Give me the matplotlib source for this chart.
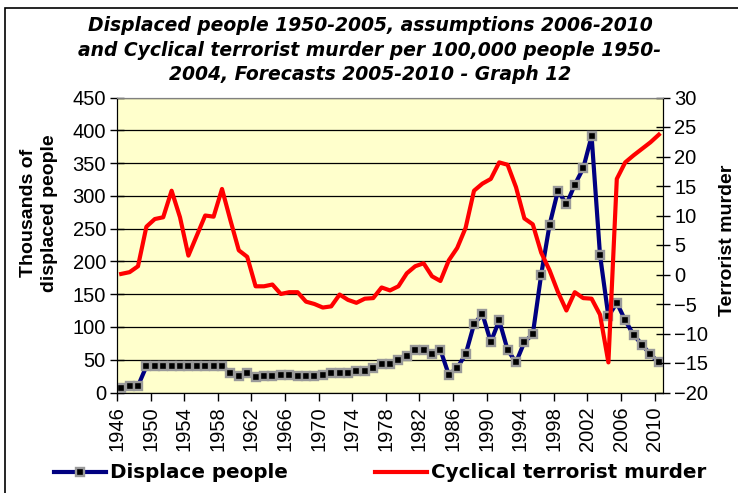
import matplotlib
matplotlib.use("Agg")
import matplotlib.pyplot as plt
import numpy as np
from matplotlib.patches import Rectangle

plt.rcParams["font.family"] = ["Liberation Sans", "DejaVu Sans"]

# --- data ---
years = list(range(1946, 2011))

displaced = [
    7, 10, 10, 40, 40, 40, 40, 40, 40, 40,   # 1946-1955
    40, 40, 40, 30, 25, 30, 23, 25, 25, 27,   # 1956-1965
    27, 25, 25, 25, 27, 30, 30, 30, 33, 33,   # 1966-1975
    38, 43, 43, 50, 55, 65, 65, 58, 65, 27,   # 1976-1985
    38, 58, 104, 120, 77, 110, 65, 46, 77, 89,  # 1986-1995
    180, 256, 308, 287, 317, 342, 391, 210, 116, 137,  # 1996-2005
    110, 88, 73, 58, 46,                      # 2006-2010
]

terror = [
    0.1, 0.4, 1.4, 8.1, 9.4, 9.7, 14.2, 9.7, 3.2, 6.6,   # 1946-1955
    10.0, 9.8, 14.5, 9.2, 4.1, 3.0, -2.0, -2.0, -1.7, -3.3,  # 1956-1965
    -3.0, -3.0, -4.6, -5.0, -5.6, -5.4, -3.4, -4.3, -4.8, -4.1,  # 1966-1975
    -4.0, -2.2, -2.7, -2.0, 0.2, 1.4, 1.9, -0.3, -1.1, 2.4,  # 1976-1985
    4.5, 7.9, 14.2, 15.4, 16.2, 19.0, 18.6, 14.8, 9.5, 8.5,  # 1986-1995
    3.7, 0.7, -3.0, -6.1, -3.0, -4.0, -4.1, -6.8, -14.9, 16.2,  # 1996-2005
    19.0, 20.2, 21.3, 22.4, 23.7,                        # 2006-2010
]

title = ("Displaced people 1950-2005, assumptions 2006-2010\n"
         "and Cyclical terrorist murder per 100,000 people 1950-\n"
         "2004, Forecasts 2005-2010 - Graph 12")
left_ticks = list(range(0, 451, 50))
right_ticks = list(range(-20, 31, 5))
label_years = list(range(1946, 2011, 4))


def main() -> None:
    fig = plt.figure(figsize=(7.38, 4.93), dpi=100)
    W, H = 738, 493

    # chart-area frame (runs off the right and bottom of the picture)
    fig.patches.append(Rectangle((5 / W, -0.05), 1.1, 1 - 8 / H + 0.05,
                                 transform=fig.transFigure, fill=False,
                                 edgecolor="black", linewidth=1.2))

    ax = fig.add_axes([117 / W, 1 - 392.5 / H, (663 - 117) / W, (392.5 - 97.5) / H])
    ax.set_facecolor("#FFFFCC")
    ax2 = ax.twinx()

    ax.set_xlim(1945.5, 2010.5)
    ax.set_ylim(0, 450)
    ax2.set_ylim(-20, 30)

    ax.set_yticks(left_ticks)
    ax2.set_yticks(right_ticks)
    ax.yaxis.grid(True, color="black", linewidth=0.9)
    ax.set_axisbelow(True)

    ax.set_xticks([y - 0.5 for y in label_years])
    ax.set_xticklabels([str(y) for y in label_years], rotation=90, fontsize=14.5)
    ax.tick_params(axis="x", direction="out", length=6, width=1, pad=4)
    ax.tick_params(axis="y", direction="inout", length=10, width=1, labelsize=14.5, pad=3)
    ax2.tick_params(axis="y", direction="inout", length=10, width=1, labelsize=14.5, pad=3)

    for a in (ax, ax2):
        a.spines["top"].set_color("#808080")
        a.spines["left"].set_color("black")
        a.spines["right"].set_color("black")
        a.spines["bottom"].set_color("black")

    h1, = ax.plot(years, displaced, color="#000080", linewidth=3,
                  marker="s", markersize=6, markerfacecolor="black",
                  markeredgecolor="#999999", markeredgewidth=1.7, zorder=3)
    h2, = ax2.plot(years, terror, color="#FF0000", linewidth=3, zorder=3)
    ax2.set_zorder(ax.get_zorder() + 1)
    ax2.patch.set_visible(False)

    # Excel spreads its letters; the wider DejaVu face gets closer to that width
    fig.text(370 / W, 1 - 50 / H, title, ha="center", va="center",
             family="DejaVu Sans", fontsize=13.5, fontweight="bold",
             fontstyle="italic", linespacing=1.38)

    fig.text(39 / W, 1 - 213 / H, "Thousands of\ndisplaced people", rotation=90,
             ha="center", va="center", fontsize=14, fontweight="bold",
             linespacing=1.3)
    fig.text(728 / W, 1 - 240 / H, "Terrorist murder", rotation=90,
             ha="center", va="center", fontsize=14, fontweight="bold")

    fig.legend([h1, h2], ["Displace people", "Cyclical terrorist murder"],
               loc="center", bbox_to_anchor=(380 / W, 1 - 473 / H), ncol=2,
               frameon=False, prop={"family": "DejaVu Sans", "weight": "bold", "size": 14.3},
               handlelength=2.6, handletextpad=0.2, columnspacing=4.4)

    fig.savefig("out.png", dpi=100, facecolor="white")
    plt.close(fig)


if __name__ == "__main__":
    main()
